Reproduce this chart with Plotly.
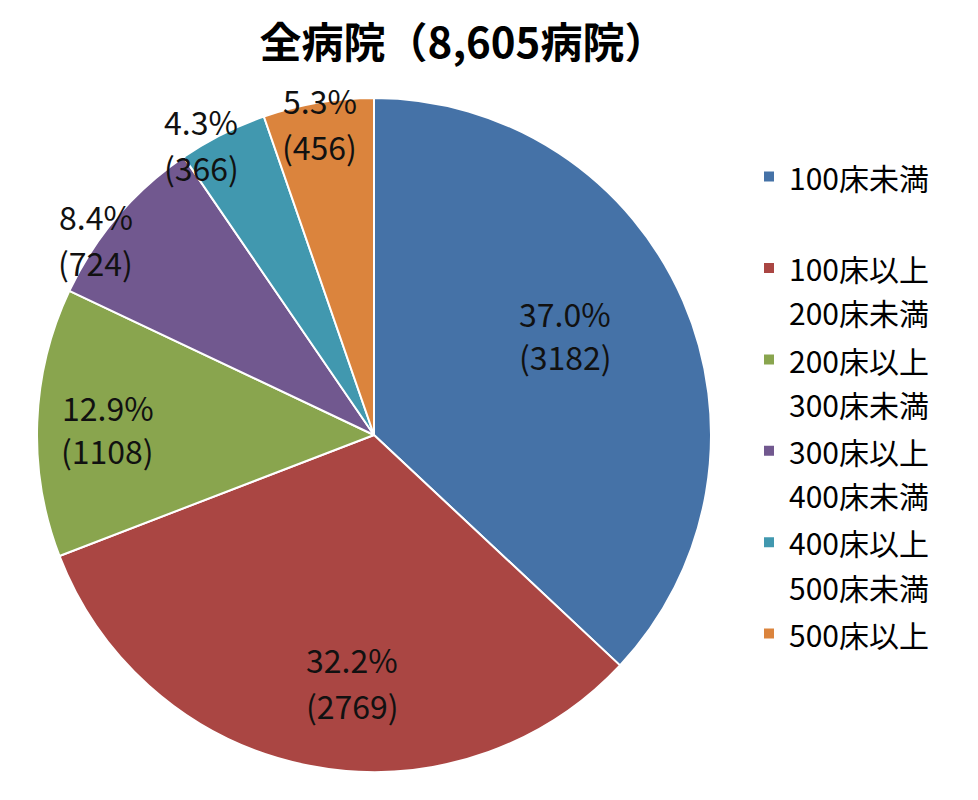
import math
import plotly.graph_objects as go

categories = ["100床未満", "100床以上<br>200床未満", "200床以上<br>300床未満",
              "300床以上<br>400床未満", "400床以上<br>500床未満", "500床以上"]
counts = [3182, 2769, 1108, 724, 366, 456]
colors = ["#4572A7", "#AA4643", "#89A54E", "#71588F", "#4198AF", "#DB843D"]
title_text = "全病院（8,605病院）"

# label placement tuning (style): radius fraction and angle offset (deg)
label_r = [0.64, 0.735, 0.79, 1.01, 1.005, 0.94]
label_da = [-4.2, -6.0, -0.8, -5.3, -3.9, -0.3]
label_gap = [21.5, 23, 21.5, 23, 23, 23]

W, H = 978, 800
OFF = 8  # page body margin
cx, cy, R = 374 - OFF, 435 - OFF, 337
FONT = "Noto Sans CJK JP"


def legend_text(c):
    parts = c.split("<br>")
    if len(parts) < 2:
        parts.append("&nbsp;")
    return "<br>".join(f"<span style='font-size:30px'>{p}</span>" for p in parts)


legend_labels = [legend_text(c) for c in categories]

fig = go.Figure(go.Pie(
    labels=legend_labels,
    values=counts,
    sort=False,
    direction="clockwise",
    rotation=0,
    marker=dict(colors=colors, line=dict(color="white", width=2)),
    textinfo="none",
    hoverinfo="value+percent",
    domain=dict(x=[(cx - R) / W, (cx + R) / W], y=[1 - (cy + R) / H, 1 - (cy - R) / H]),
))

total = sum(counts)
annotations = []
cum = 0
for i, v in enumerate(counts):
    mid = (cum + v / 2) / total * 360 + label_da[i]
    cum += v
    rr = R * label_r[i]
    px = cx + rr * math.sin(math.radians(mid))
    py = cy - rr * math.cos(math.radians(mid))
    pct = f"{v / total * 100:.1f}%"
    for txt, shift in ((pct, label_gap[i]), (f"({v})", -label_gap[i])):
        annotations.append(dict(
            x=px / W, y=1 - py / H, xref="paper", yref="paper",
            text=txt, showarrow=False, yshift=shift,
            font=dict(family=FONT, size=32, color="#111111"),
            xanchor="center", yanchor="middle",
        ))

fig.update_layout(
    width=W, height=H,
    margin=dict(l=0, r=0, t=0, b=0),
    paper_bgcolor="white",
    title=dict(text=f"<b>{title_text}</b>", x=(463 - OFF) / W, y=1 - (43 - OFF) / H,
               xanchor="center", yanchor="middle",
               font=dict(family=FONT, size=42, color="black")),
    legend=dict(x=(749 - OFF) / W, y=1 - (148 - OFF) / H, xanchor="left", yanchor="top",
                valign="top", traceorder="normal",
                font=dict(family=FONT, size=34, color="black")),
    annotations=annotations,
)

fig.write_html("out.html")
